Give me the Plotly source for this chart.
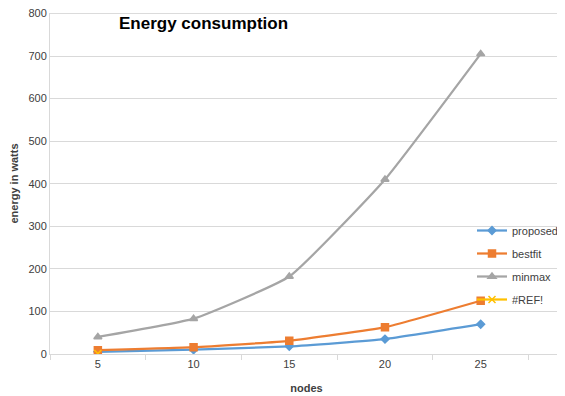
import plotly.graph_objects as go

nodes = [5, 10, 15, 20, 25]
proposed = [5, 10, 18, 35, 70]
bestfit = [9, 16, 31, 63, 125]
minmax = [40, 83, 182, 410, 705]
ref_x = [5]
ref_y = [1]
y_max = 800

fig = go.Figure()
series = [
    ("proposed", nodes, proposed, "#5B9BD5", "diamond", 6),
    ("bestfit", nodes, bestfit, "#ED7D31", "square", 7),
    ("minmax", nodes, minmax, "#A5A5A5", "triangle-up", 7),
    ("#REF!", ref_x, ref_y, "#FFC000", "x-thin-open", 7),
]
for name, xs, ys, col, sym, sz in series:
    fig.add_trace(go.Scatter(
        x=xs, y=ys, name=name, mode="lines+markers",
        line=dict(color=col, width=2.25, shape="spline", smoothing=0.4),
        marker=dict(symbol=sym, size=sz, color=col, line=dict(color=col, width=1.5)),
        legendgroup=name,
    ))

# page body has an 8px default margin, so the figure is sized to fit inside the window
fig.update_layout(
    width=557, height=388,
    margin=dict(l=42, r=2, t=5, b=42, autoexpand=False),
    paper_bgcolor="white", plot_bgcolor="white",
    font=dict(family="Liberation Sans, Arial", size=11, color="#404040"),
    showlegend=True,
    legend=dict(x=(472 - 50) / 513, y=(354 - 216) / 341, xanchor="left", yanchor="top",
                bgcolor="rgba(0,0,0,0)", font=dict(size=11, color="#404040"),
                tracegroupgap=4, itemwidth=30),
    annotations=[dict(text="<b>Energy consumption</b>", x=(203 - 50) / 513, y=(354 - 24) / 341,
                      xref="paper", yref="paper", xanchor="center", yanchor="middle",
                      showarrow=False, font=dict(size=17, color="black"))],
    shapes=[dict(type="line", xref="paper", yref="y", x0=0, x1=1, y0=y_max, y1=y_max,
                 line=dict(color="#D9D9D9", width=1), layer="below")],
)

fig.update_xaxes(
    range=[2.5, 29.3], tickvals=nodes, ticks="", showgrid=False, automargin=False,
    showline=True, linecolor="#D9D9D9", linewidth=1, zeroline=False,
    minor=dict(tick0=2.5, dtick=5, ticks="outside", ticklen=5, tickcolor="#D9D9D9", showgrid=False),
    title=dict(text="<b>nodes</b>", font=dict(size=11, color="#404040"), standoff=15),
    tickfont=dict(size=11, color="#404040"),
)
fig.update_yaxes(
    range=[0, 801], tickvals=[0, 100, 200, 300, 400, 500, 600, 700, 800],
    showgrid=True, gridcolor="#D9D9D9", gridwidth=1, automargin=False,
    showline=True, linecolor="#D9D9D9", zeroline=False, ticks="", ticklabeloverflow="allow",
    title=dict(text="<b>energy in watts</b>", font=dict(size=11, color="#404040"), standoff=8),
    tickfont=dict(size=11, color="#404040"),
)

fig.write_html("out.html")
